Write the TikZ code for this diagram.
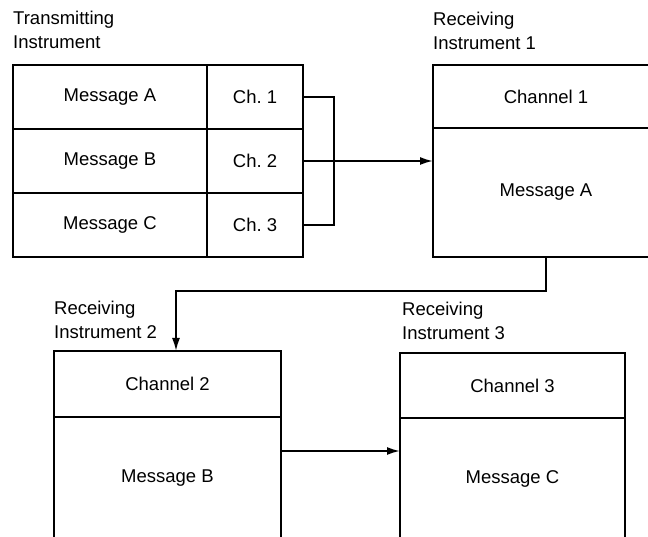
\documentclass[tikz,border=0pt]{standalone}
\usepackage{fontspec}
\setmainfont{Liberation Sans}
\usetikzlibrary{positioning,arrows.meta,calc}
\tikzset{
  cell/.style={draw, line width=1.8pt, inner sep=0pt, outer sep=0pt, align=center, font=\fontsize{18.5}{22}\selectfont},
  lbl/.style={inner sep=0pt, align=left, font=\fontsize{18.5}{24}\selectfont},
  wire/.style={line width=1.8pt},
  arr/.style={-{Latex[length=13pt,width=8pt]}, line width=1.8pt},
}
\begin{document}
\begin{tikzpicture}[x=1pt,y=-1pt]
  \clip[use as bounding box] (0,0) rectangle (648,537);
  % transmitting instrument
  \node[cell, minimum width=194pt, minimum height=64pt] (msgA) at (110,97) {Message A};
  \node[cell, minimum width=194pt, minimum height=64pt, below=0pt of msgA] (msgB) {Message B};
  \node[cell, minimum width=194pt, minimum height=64pt, below=0pt of msgB] (msgC) {Message C};
  \node[cell, minimum width=96pt, minimum height=64pt, right=0pt of msgA] (chA) {Ch.~1};
  \node[cell, minimum width=96pt, minimum height=64pt, right=0pt of msgB] (chB) {Ch.~2};
  \node[cell, minimum width=96pt, minimum height=64pt, right=0pt of msgC] (chC) {Ch.~3};
  \node[lbl, above=16pt of msgA.north west, anchor=south west] (tlbl) {Transmitting\\Instrument};
  % receiving instruments
  \node[cell, minimum width=226pt, minimum height=63pt] (r1ch) at (546,96.5) {Channel 1};
  \node[cell, minimum width=226pt, minimum height=129pt, below=0pt of r1ch] (r1msg) {Message A};
  \node[lbl, above=15pt of r1ch.north west, anchor=south west] (r1lbl) {Receiving\\Instrument 1};
  \node[cell, minimum width=227pt, minimum height=66pt] (r2ch) at (167.5,384) {Channel 2};
  \node[cell, minimum width=227pt, minimum height=122pt, below=0pt of r2ch] (r2msg) {Message B};
  \node[lbl, above=12pt of r2ch.north west, anchor=south west] (r2lbl) {Receiving\\Instrument 2};
  \node[cell, minimum width=225pt, minimum height=65pt] (r3ch) at (512.5,385.5) {Channel 3};
  \node[cell, minimum width=225pt, minimum height=122pt, below=0pt of r3ch] (r3msg) {Message C};
  \node[lbl, above=13pt of r3ch.north west, anchor=south west, xshift=2pt] (r3lbl) {Receiving\\Instrument 3};
  % connectors
  \draw[wire] (chA.east) -- ++(31,0) |- (chC.east);
  \draw[arr] (chB.east) -- (chB.east -| r1msg.west);
  \coordinate (drop) at (176,291);
  \draw[arr] (r1msg.south) |- (drop) -- (drop |- r2ch.north);
  \draw[arr] ([yshift=27pt]r2msg.east) -- ([yshift=27pt]r2msg.east -| r3msg.west);
\end{tikzpicture}
\end{document}
